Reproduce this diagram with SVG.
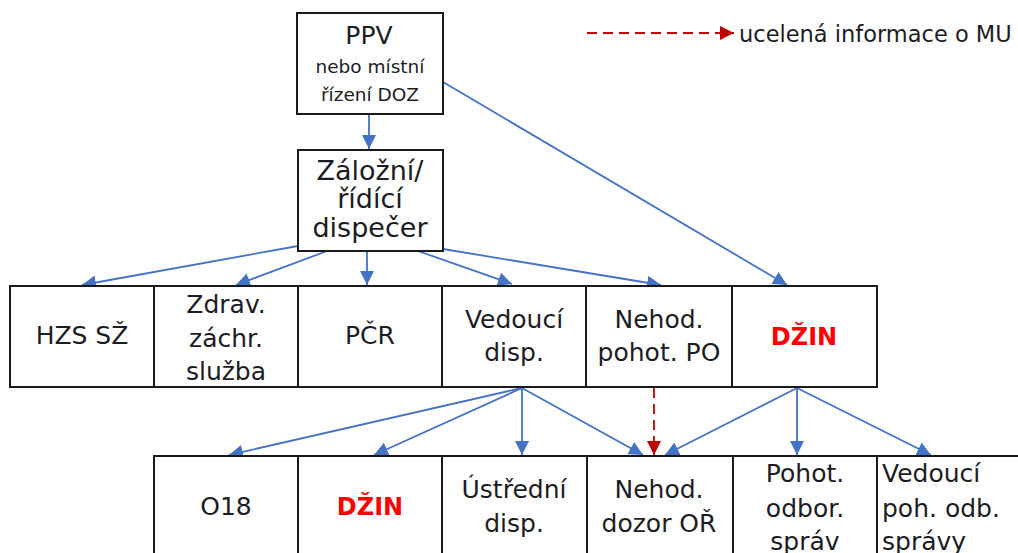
<svg xmlns="http://www.w3.org/2000/svg" width="1018" height="553" viewBox="0 0 1018 553">
<defs>
<style>
.box{fill:#fff;stroke:#1a1a1a;stroke-width:2}
.t{font-family:"DejaVu Sans","Verdana",sans-serif;font-size:25px;fill:#1c1c24;text-anchor:middle}
.s{font-size:18.5px}
.r{font-weight:bold;fill:#ff0000;font-size:24px}
.c{fill:none;stroke:#4472c4;stroke-width:1.8}
.d{fill:none;stroke:#c00000;stroke-width:1.8;stroke-dasharray:10 6}
</style>
<marker id="ab" markerUnits="userSpaceOnUse" markerWidth="16" markerHeight="16" refX="14" refY="7" orient="auto">
<path d="M0,0 L14,7 L0,14 Z" fill="#4472c4"/>
</marker>
<marker id="ar" markerUnits="userSpaceOnUse" markerWidth="16" markerHeight="16" refX="14" refY="7" orient="auto">
<path d="M0,0 L14,7 L0,14 Z" fill="#c00000"/>
</marker>
</defs>
<rect width="1018" height="553" fill="#fff"/>

<g id="connectors">
<line class="c" x1="369" y1="115" x2="369" y2="149" marker-end="url(#ab)"/>
<line class="c" x1="443" y1="82" x2="787" y2="285" marker-end="url(#ab)"/>
<line class="c" x1="298" y1="246" x2="82" y2="285" marker-end="url(#ab)"/>
<line class="c" x1="327" y1="251" x2="236" y2="285" marker-end="url(#ab)"/>
<line class="c" x1="367" y1="251" x2="367" y2="285" marker-end="url(#ab)"/>
<line class="c" x1="418" y1="251" x2="512" y2="284" marker-end="url(#ab)"/>
<line class="c" x1="443" y1="249" x2="661" y2="285" marker-end="url(#ab)"/>
<line class="c" x1="522" y1="388" x2="229" y2="455" marker-end="url(#ab)"/>
<line class="c" x1="522" y1="388" x2="374" y2="455" marker-end="url(#ab)"/>
<line class="c" x1="522" y1="388" x2="522" y2="455" marker-end="url(#ab)"/>
<line class="c" x1="522" y1="388" x2="643" y2="455" marker-end="url(#ab)"/>
<line class="c" x1="797" y1="388" x2="665" y2="455" marker-end="url(#ab)"/>
<line class="c" x1="797" y1="388" x2="797" y2="455" marker-end="url(#ab)"/>
<line class="c" x1="797" y1="388" x2="931" y2="455" marker-end="url(#ab)"/>
<line class="d" x1="654" y1="388" x2="654" y2="455" marker-end="url(#ar)"/>
</g>

<g id="legend">
<line class="d" x1="587" y1="33" x2="734" y2="33" marker-end="url(#ar)"/>
<text class="t" x="739" y="42" style="text-anchor:start;font-size:22.5px">ucelená informace o MU</text>
</g>

<g id="ppv">
<rect class="box" x="297" y="13" width="146" height="101"/>
<text class="t" x="369" y="44">PPV</text>
<text class="t s" x="370" y="73">nebo místní</text>
<text class="t s" x="370" y="101">řízení DOZ</text>
</g>

<g id="zalozni">
<rect class="box" x="298" y="150" width="145" height="101"/>
<text class="t" x="370" y="180" style="font-size:27px">Záložní/</text>
<text class="t" x="370" y="208" style="font-size:27px">řídící</text>
<text class="t" x="370" y="237" style="font-size:27px">dispečer</text>
</g>

<g id="hzs">
<rect class="box" x="10" y="286" width="144" height="101"/>
<text class="t" x="82" y="344">HZS SŽ</text>
</g>
<g id="zdrav">
<rect class="box" x="154" y="286" width="144" height="101"/>
<text class="t" x="226" y="313">Zdrav.</text>
<text class="t" x="226" y="347">záchr.</text>
<text class="t" x="226" y="380">služba</text>
</g>
<g id="pcr">
<rect class="box" x="298" y="286" width="144" height="101"/>
<text class="t" x="370" y="344">PČR</text>
</g>
<g id="vedouci-disp">
<rect class="box" x="442" y="286" width="144" height="101"/>
<text class="t" x="514" y="328">Vedoucí</text>
<text class="t" x="514" y="361">disp.</text>
</g>
<g id="nehod-pohot">
<rect class="box" x="586" y="286" width="146" height="101"/>
<text class="t" x="659" y="328">Nehod.</text>
<text class="t" x="659" y="361">pohot. PO</text>
</g>
<g id="dzin1">
<rect class="box" x="732" y="286" width="145" height="101"/>
<text class="t r" x="804" y="345">DŽIN</text>
</g>

<g id="o18">
<rect class="box" x="154" y="456" width="144" height="110"/>
<text class="t" x="226" y="515">O18</text>
</g>
<g id="dzin2">
<rect class="box" x="298" y="456" width="144" height="110"/>
<text class="t r" x="370" y="515">DŽIN</text>
</g>
<g id="ustredni">
<rect class="box" x="442" y="456" width="145" height="110"/>
<text class="t" x="514" y="498">Ústřední</text>
<text class="t" x="514" y="532">disp.</text>
</g>
<g id="nehod-dozor">
<rect class="box" x="587" y="456" width="146" height="110"/>
<text class="t" x="659" y="498">Nehod.</text>
<text class="t" x="659" y="532">dozor OŘ</text>
</g>
<g id="pohot-odbor">
<rect class="box" x="733" y="456" width="144" height="110"/>
<text class="t" x="805" y="482">Pohot.</text>
<text class="t" x="805" y="517">odbor.</text>
<text class="t" x="805" y="550">správ</text>
</g>
<g id="vedouci-poh">
<rect class="box" x="877" y="456" width="150" height="110"/>
<text class="t" x="882" y="482" style="text-anchor:start">Vedoucí</text>
<text class="t" x="882" y="517" style="text-anchor:start">poh. odb.</text>
<text class="t" x="882" y="550" style="text-anchor:start">správy</text>
</g>
</svg>
